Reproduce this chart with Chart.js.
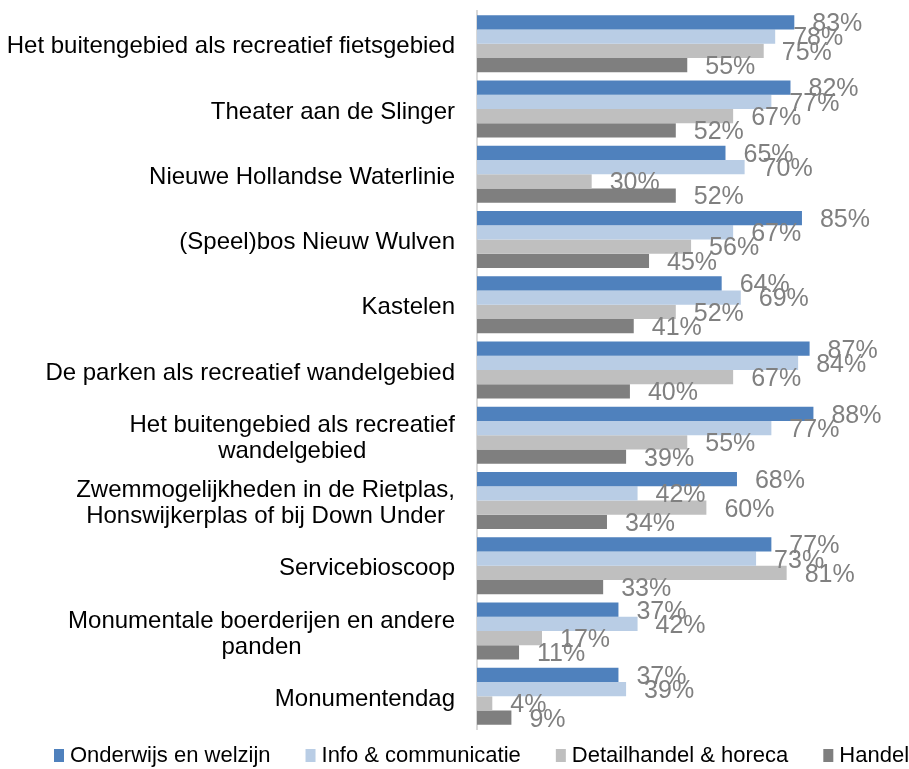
<!DOCTYPE html>
<html>
<head>
<meta charset="utf-8">
<script src="https://cdn.jsdelivr.net/npm/chart.js@4"></script>
<style>
  html, body { margin: 0; padding: 0; background: #fff; }
  #wrap { width: 909px; height: 769px; position: relative; }
</style>
</head>
<body>
<div id="wrap"><canvas id="grafiek"></canvas></div>
<script>
// Categorieën (meerregelige labels als array)
const categorieen = [
    'Het buitengebied als recreatief fietsgebied',
    'Theater aan de Slinger',
    'Nieuwe Hollandse Waterlinie',
    '(Speel)bos Nieuw Wulven',
    'Kastelen',
    'De parken als recreatief wandelgebied',
    ['Het buitengebied als recreatief', 'wandelgebied'],
    ['Zwemmogelijkheden in de Rietplas,', 'Honswijkerplas of bij Down Under'],
    'Servicebioscoop',
    ['Monumentale boerderijen en andere', 'panden'],
    'Monumentendag'
];

// Percentages per sector
const onderwijs = [83, 82, 65, 85, 64, 87, 88, 68, 77, 37, 37];
const infoComm = [78, 77, 70, 67, 69, 84, 77, 42, 73, 42, 39];
const detailhandel = [75, 67, 30, 56, 52, 67, 55, 60, 81, 17, 4];
const handel = [55, 52, 52, 45, 41, 40, 39, 34, 33, 11, 9];

const fontFam = '"Liberation Sans", Arial, sans-serif';

// Waardelabels rechts van de balken
const waardeLabels = {
    id: 'waardeLabels',
    afterDatasetsDraw(chart) {
        const ctx = chart.ctx;
        ctx.save();
        ctx.font = '25px ' + fontFam;
        ctx.fillStyle = '#808080';
        ctx.textAlign = 'left';
        ctx.textBaseline = 'middle';
        chart.data.datasets.forEach((ds, i) => {
            const meta = chart.getDatasetMeta(i);
            meta.data.forEach((bar, j) => {
                ctx.fillText(ds.data[j] + '%', bar.x + 18, bar.y + 2);
            });
        });
        ctx.restore();
    }
};

// Categorielabels: rechts uitgelijnd blok, regels onderling gecentreerd
const categorieLabels = {
    id: 'categorieLabels',
    afterDraw(chart) {
        const ctx = chart.ctx;
        const schaal = chart.scales.y;
        const rechts = chart.chartArea.left - 22;
        const regelHoogte = 26;
        ctx.save();
        ctx.font = '24px ' + fontFam;
        ctx.fillStyle = '#000';
        ctx.textAlign = 'center';
        ctx.textBaseline = 'middle';
        categorieen.forEach((lab, i) => {
            const regels = Array.isArray(lab) ? lab : [lab];
            const breedst = Math.max(...regels.map(r => ctx.measureText(r).width));
            const cx = rechts - breedst / 2;
            const y = schaal.getPixelForValue(i);
            regels.forEach((r, k) => {
                ctx.fillText(r, cx, y + 3 + (k - (regels.length - 1) / 2) * regelHoogte);
            });
        });
        ctx.restore();
    }
};

// Legenda onderaan, één regel (kleine vierkantjes zoals in Excel)
const legendaOnder = {
    id: 'legendaOnder',
    afterDraw(chart) {
        const ctx = chart.ctx;
        const y = 756;
        let x = 54;
        ctx.save();
        ctx.font = '22px ' + fontFam;
        ctx.textAlign = 'left';
        ctx.textBaseline = 'middle';
        chart.data.datasets.forEach(ds => {
            ctx.fillStyle = ds.backgroundColor;
            ctx.fillRect(x, y - 7, 10, 13);
            ctx.fillStyle = '#000';
            ctx.fillText(ds.label, x + 16, y);
            x += 16 + ctx.measureText(ds.label).width + 35;
        });
        ctx.restore();
    }
};

const ctx = document.getElementById('grafiek').getContext('2d');
new Chart(ctx, {
    type: 'bar',
    data: {
        labels: categorieen,
        datasets: [
            { label: 'Onderwijs en welzijn', data: onderwijs, backgroundColor: '#4f81bd' },
            { label: 'Info & communicatie', data: infoComm, backgroundColor: '#b9cde5' },
            { label: 'Detailhandel & horeca', data: detailhandel, backgroundColor: '#bfbfbf' },
            { label: 'Handel', data: handel, backgroundColor: '#7f7f7f' }
        ]
    },
    options: {
        indexAxis: 'y',
        responsive: true,
        maintainAspectRatio: false,
        animation: false,
        datasets: {
            bar: { categoryPercentage: 0.873, barPercentage: 1, borderWidth: 0 }
        },
        layout: { padding: { top: 11, right: 0, left: 0, bottom: 40 } },
        plugins: {
            tooltip: { enabled: false },
            title: { display: false },
            legend: { display: false }
        },
        scales: {
            x: { display: false, min: 0, max: 113 },
            y: {
                grid: { display: false },
                border: { display: true, color: '#d9d9d9', width: 2 },
                ticks: { display: false },
                afterFit(scale) { scale.width = 477; }
            }
        }
    },
    plugins: [waardeLabels, categorieLabels, legendaOnder]
});
</script>
</body>
</html>
